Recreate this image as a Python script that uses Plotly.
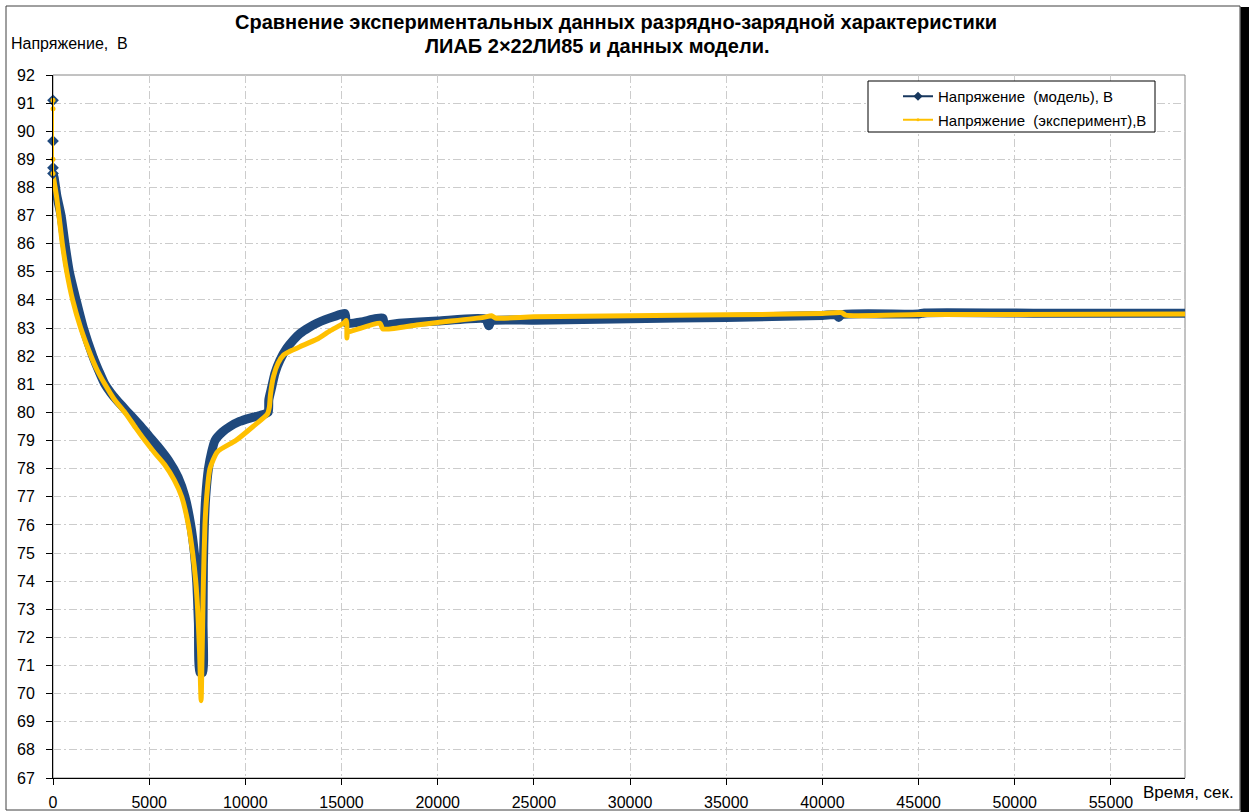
import plotly.graph_objects as go

# Time, s
model_time = [0, 0, 0, 0, 60, 200, 420, 620, 850, 1200, 1580, 2070, 2400, 2700, 3000,
              3300, 3900, 4500, 5000, 5500, 6000, 6500, 6860, 7160, 7350, 7470, 7560,
              7640, 7780, 7800, 7820, 7870, 7940, 8080, 8250, 8420, 8800, 9200,
              9700, 10240, 10800, 11180, 11220, 11370, 11540, 11800, 12150, 12500,
              12840, 13300, 13710, 14150, 14580, 15180, 15260, 16000, 17150, 17220,
              18000, 20000, 22500, 22650, 22800, 25000, 30000, 35000, 40000, 40700,
              40850, 41000, 45000, 45300, 51500, 58850]
# Voltage, V (model)
model_voltage = [91.1, 89.65, 88.7, 88.5, 88.35, 87.7, 87.0, 86.0, 85.0, 84.0, 83.0,
                 82.0, 81.45, 81.0, 80.7, 80.45, 80.0, 79.55, 79.15, 78.75, 78.3, 77.7,
                 77.0, 76.0, 75.0, 74.0, 72.5, 70.75, 70.75, 72.5, 74.6, 76.0, 77.0,
                 78.0, 78.6, 79.0, 79.3, 79.5, 79.68, 79.8, 79.9, 80.0, 80.45, 80.9,
                 81.4, 81.86, 82.28, 82.58, 82.81, 83.02, 83.17, 83.3, 83.4, 83.52,
                 83.17, 83.22, 83.35, 83.12, 83.17, 83.25, 83.32, 83.08, 83.25, 83.28,
                 83.33, 83.38, 83.45, 83.47, 83.38, 83.48, 83.5, 83.54, 83.53, 83.53]

# Time, s
exp_time = [0, 0, 0, 0, 40, 180, 310, 485, 715, 1020, 1440, 1980, 2300, 2700, 3200,
            3740, 4300, 4780, 5300, 5800, 6300, 6690, 7040, 7260, 7420, 7520, 7620,
            7700, 7740, 7780, 7820, 7900, 7990, 8160, 8550, 9500, 10400, 11150, 11250,
            11300, 11460, 11700, 11980, 12400, 12840, 13710, 14400, 15100, 15250,
            15280, 15320, 15440, 17000, 17150, 18900, 20000, 22380, 22800, 23000,
            25000, 30000, 35000, 40000, 41000, 41200, 45000, 50000, 58850]
# Voltage, V (experiment)
exp_voltage = [91.1, 90.8, 89.0, 88.5, 88.3, 87.7, 87.0, 86.0, 85.0, 84.0, 83.0, 82.0,
               81.5, 81.0, 80.45, 80.0, 79.45, 79.0, 78.55, 78.15, 77.6, 77.0, 76.0,
               75.0, 74.0, 73.0, 71.5, 69.75, 71.0, 72.5, 74.0, 76.0, 77.0, 78.0, 78.6,
               79.0, 79.5, 79.95, 80.2, 80.6, 81.27, 81.75, 82.04, 82.2, 82.34, 82.6,
               82.9, 83.17, 83.27, 82.65, 82.9, 82.88, 83.17, 82.97, 83.11, 83.2, 83.38,
               83.44, 83.36, 83.4, 83.44, 83.47, 83.52, 83.55, 83.46, 83.48, 83.48, 83.5]

x_ticks = [0, 5000, 10000, 15000, 20000, 25000, 30000, 35000, 40000, 45000, 50000, 55000]
y_ticks = list(range(67, 93))

model_name = "Напряжение  (модель), В"
exp_name = "Напряжение  (эксперимент),В"
title_line1 = "Сравнение экспериментальных данных разрядно-зарядной характеристики"
title_line2 = "ЛИАБ 2×22ЛИ85 и данных модели."
y_title = "Напряжение,  В"
x_title = "Время, сек."

BLUE = "#1F497D"
YELLOW = "#FFC000"
FONT = "Liberation Sans, Arial, sans-serif"

W, H = 1249, 812
L, R, T, B = 53, 1185, 75, 778  # plot area in pixels
PW, PH = R - L, B - T


def px(xp):
    return (xp - L) / PW


def py(yp):
    return 1 - (yp - T) / PH


def leading_zero_count(t):
    n = 0
    for v in t:
        if v == 0:
            n += 1
        else:
            break
    return n


fig = go.Figure()

nm = leading_zero_count(model_time)
ne = leading_zero_count(exp_time)

# main curves (dense markers in the source give thick bands)
fig.add_trace(go.Scatter(x=model_time[nm - 1:], y=model_voltage[nm - 1:], mode="lines",
                         line=dict(color=BLUE, width=9, shape="spline", smoothing=0.6),
                         showlegend=False, cliponaxis=False, hoverinfo="skip"))
fig.add_trace(go.Scatter(x=exp_time[ne - 1:], y=exp_voltage[ne - 1:], mode="lines",
                         line=dict(color=YELLOW, width=5, shape="spline", smoothing=0.6),
                         showlegend=False, cliponaxis=False, hoverinfo="skip"))
# switch-on transient at t = 0
fig.add_trace(go.Scatter(x=model_time[:nm], y=model_voltage[:nm], mode="lines+markers",
                         line=dict(color=BLUE, width=2),
                         marker=dict(symbol="diamond", size=9, color=BLUE),
                         showlegend=False, cliponaxis=False, hoverinfo="skip"))
fig.add_trace(go.Scatter(x=exp_time[:ne], y=exp_voltage[:ne], mode="lines+markers",
                         line=dict(color=YELLOW, width=2),
                         marker=dict(symbol="circle", size=5, color=YELLOW),
                         showlegend=False, cliponaxis=False, hoverinfo="skip"))

# legend entries
fig.add_trace(go.Scatter(x=[None], y=[None], mode="lines+markers", name=model_name,
                         legendgroup="m",
                         line=dict(color="#17375E", width=2),
                         marker=dict(symbol="diamond", size=7, color="#17375E")))
fig.add_trace(go.Scatter(x=[None], y=[None], mode="lines+markers", name=exp_name,
                         legendgroup="e",
                         line=dict(color=YELLOW, width=2),
                         marker=dict(symbol="circle", size=3, color=YELLOW)))

grid = dict(gridcolor="#CCCCCC", griddash="8px,3px,2px,3px", gridwidth=1)

fig.update_xaxes(range=[0, 58850], tickvals=x_ticks, tickformat="d",
                 ticks="outside", ticklen=6, tickcolor="black",
                 showline=True, linecolor="black", linewidth=1,
                 zeroline=False, showgrid=True, automargin=False,
                 ticklabelstandoff=4,
                 tickfont=dict(family=FONT, size=16, color="black"), **grid)
fig.update_yaxes(range=[67, 92], tickvals=y_ticks,
                 ticks="outside", ticklen=6, tickcolor="black",
                 showline=True, linecolor="black", linewidth=1,
                 zeroline=False, showgrid=True, automargin=False,
                 ticklabelstandoff=8,
                 tickfont=dict(family=FONT, size=16, color="black"), **grid)

shapes = [
    # plot-area frame
    dict(type="rect", xref="paper", yref="paper", x0=0, x1=1, y0=0, y1=1,
         line=dict(color="#868686", width=1), layer="between"),
    # chart frame
    dict(type="rect", xref="paper", yref="paper", x0=px(6), x1=px(1240),
         y0=py(810), y1=py(6), line=dict(color="#404040", width=1), layer="below"),
    # right shadow strip
    dict(type="rect", xref="paper", yref="paper", x0=px(1240.5), x1=px(1252),
         y0=py(815), y1=py(7), line=dict(width=0), fillcolor="black", layer="above"),
    # legend box
    dict(type="rect", xref="paper", yref="paper", x0=px(868), x1=px(1155),
         y0=py(132), y1=py(81), line=dict(color="black", width=1),
         fillcolor="white", layer="above"),
]

annotations = [
    dict(text=f"<b>{title_line1}</b>", xref="paper", yref="paper", x=px(616), y=py(22),
         xanchor="center", yanchor="middle", showarrow=False,
         font=dict(family=FONT, size=20, color="black")),
    dict(text=f"<b>{title_line2}</b>", xref="paper", yref="paper", x=px(597), y=py(46),
         xanchor="center", yanchor="middle", showarrow=False,
         font=dict(family=FONT, size=20, color="black")),
    dict(text=y_title, xref="paper", yref="paper", x=px(9), y=py(43),
         xanchor="left", yanchor="middle", showarrow=False,
         font=dict(family=FONT, size=16, color="black")),
    dict(text=x_title, xref="paper", yref="paper", x=px(1141), y=py(792),
         xanchor="left", yanchor="middle", showarrow=False,
         font=dict(family=FONT, size=17, color="black")),
]

fig.update_layout(
    width=W, height=H,
    margin=dict(l=L, r=W - R, t=T, b=H - B, pad=0),
    paper_bgcolor="white", plot_bgcolor="white",
    shapes=shapes, annotations=annotations,
    showlegend=True,
    legend=dict(x=px(898), y=py(80), xanchor="left", yanchor="top",
                bgcolor="rgba(0,0,0,0)", borderwidth=0, tracegroupgap=1,
                traceorder="grouped", itemwidth=30,
                font=dict(family=FONT, size=15, color="black")),
    font=dict(family=FONT, color="black"),
)

fig.write_html("out.html")
